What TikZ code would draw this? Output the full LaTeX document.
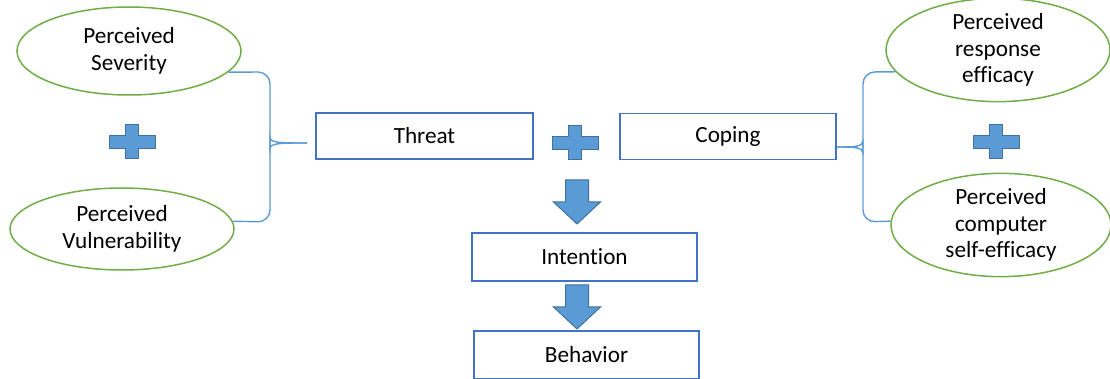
\documentclass[tikz,border=0pt]{standalone}
\usepackage{fontspec}
\setmainfont{Carlito}[Ligatures=NoCommon]
\usetikzlibrary{shapes.geometric}
\definecolor{ovalgreen}{HTML}{70AD47}
\definecolor{boxblue}{HTML}{4472C4}
\definecolor{plusfill}{HTML}{5B9BD5}
\definecolor{plusedge}{HTML}{41719C}
\begin{document}
\begin{tikzpicture}[x=0.5pt,y=-0.5pt,
    every node/.style={font=\fontsize{11.6}{13.3}\selectfont,align=center,inner sep=0pt},
    oval/.style={ellipse,draw=ovalgreen,line width=0.75pt,minimum width=112pt,minimum height=44pt},
    factor/.style={rectangle,draw=boxblue,line width=0.8pt,minimum height=23pt},
    brace/.style={draw=plusfill,line width=0.7pt},
    crossmark/.pic={\filldraw[fill=plusfill,draw=plusedge,line width=0.5pt]
      (-6.7,-17)--(6.7,-17)--(6.7,-6.7)--(23,-6.7)--(23,6.7)--(6.7,6.7)--(6.7,17)
      --(-6.7,17)--(-6.7,6.7)--(-23,6.7)--(-23,-6.7)--(-6.7,-6.7)--cycle;},
    downblock/.pic={\filldraw[fill=plusfill,draw=plusedge,line width=0.5pt]
      (-11.5,0)--(11.5,0)--(11.5,22)--(23.5,22)--(0,44)--(-23.5,22)--(-11.5,22)--cycle;}]
\useasboundingbox(0,0)rectangle(1110,379);
\node[oval](sev)at(129,51){Perceived\\Severity};
\node[oval,minimum height=41pt](vul)at(122,229){Perceived\\Vulnerability};
\node[oval,minimum height=47pt](resp)at(998,50){Perceived\\response\\efficacy};
\node[oval,minimum width=110pt,minimum height=43pt](self)at(1001,225){Perceived\\computer\\self-efficacy};
\node[factor,minimum width=108.5pt](threat)at(424.5,136){Threat};
\node[factor,minimum width=108pt](coping)at(728,136.5){Coping};
\node[factor,minimum width=112.5pt,minimum height=24pt](intent)at(584.5,257){Intention};
\node[factor,minimum width=112.5pt,minimum height=24pt](behav)at(586.5,355){Behavior};
\coordinate(ltip)at(307,143);
\coordinate(rtip)at(coping.east|-0,147);
\path(132,142)pic{crossmark}(575,143)pic{crossmark}(996,142)pic{crossmark};
\path(577,180)pic{downblock}(577,285)pic{downblock};
\draw[brace,rounded corners=6](sev.-12)--(270,72)--(270,137)[sharp corners]..controls(270,143)and(280,143)..(ltip);
\draw[brace,rounded corners=6](vul.4)--(270,222)--(270,149)[sharp corners]..controls(270,143)and(280,143)..(ltip);
\draw[brace,rounded corners=6](resp.192)--(863,72)--(863,141)[sharp corners]..controls(863,147)and(853,147)..(rtip);
\draw[brace,rounded corners=6](self.178)--(863,222)--(863,153)[sharp corners]..controls(863,147)and(853,147)..(rtip);
\end{tikzpicture}
\end{document}
